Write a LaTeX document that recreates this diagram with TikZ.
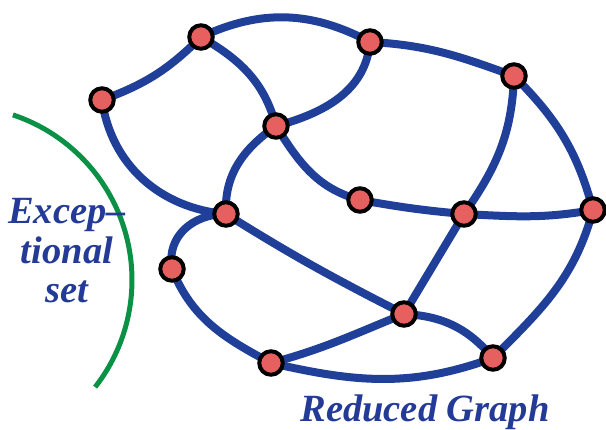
\documentclass[tikz,border=0pt]{standalone}
\usepackage{fontspec}
\setmainfont{Liberation Serif}
\usetikzlibrary{backgrounds}
\definecolor{edgeblue}{RGB}{31,63,153}
\definecolor{textblue}{RGB}{35,58,150}
\definecolor{dotred}{RGB}{230,96,96}
\definecolor{arcgreen}{RGB}{10,145,70}
\begin{document}
\begin{tikzpicture}[x=1pt,y=1pt,
  vtx/.style={circle,draw=black,line width=4pt,fill=dotred,minimum size=23.5pt,inner sep=0pt},
  edge/.style={draw=edgeblue,line width=8pt},
  lbl/.style={text=textblue,font=\fontsize{38.5}{39.5}\selectfont\bfseries\itshape}]
\useasboundingbox (0,0) rectangle (606,-430);
\node[vtx] (A) at (102,-100) {};
\node[vtx] (B) at (201,-37) {};
\node[vtx] (C) at (370,-42) {};
\node[vtx] (D) at (514,-76) {};
\node[vtx] (E) at (276,-126) {};
\node[vtx] (F) at (360,-200) {};
\node[vtx] (G) at (464,-214) {};
\node[vtx] (H) at (593,-210) {};
\node[vtx] (I) at (226,-214) {};
\node[vtx] (J) at (172,-269) {};
\node[vtx] (K) at (404,-314) {};
\node[vtx] (L) at (271,-363) {};
\node[vtx] (M) at (493,-358) {};
\begin{scope}[on background layer]
\path[edge] (A.center) to[out=20,in=225] (B.center);
\path[edge] (B.center) to[out=25,in=152] (C.center);
\path[edge] (C.center) to[out=-3,in=160] (D.center);
\path[edge] (D.center) to[out=-45,in=105] (H.center);
\path[edge] (H.center) to[out=-105,in=45] (M.center);
\path[edge] (M.center) to[out=200,in=-13] (L.center);
\path[edge] (L.center) to[out=152,in=-68] (J.center);
\path[edge] (J.center) to[out=100,in=180,looseness=1.1] (I.center);
\path[edge] (A.center) to[out=-82,in=175] (I.center);
\path[edge] (E.center) to[out=215,in=93] (I.center);
\path[edge] (B.center) to[out=-30,in=105] (E.center);
\path[edge] (C.center) to[out=-95,in=15] (E.center);
\path[edge] (E.center) to[out=-58,in=165] (F.center);
\path[edge] (F.center) to[out=-10,in=175] (G.center);
\path[edge] (G.center) to[out=-3,in=190] (H.center);
\path[edge] (D.center) to[out=-92,in=55] (G.center);
\path[edge] (G.center) -- (K.center);
\path[edge] (I.center) to[out=-32,in=153] (K.center);
\path[edge] (K.center) to[out=202,in=15] (L.center);
\path[edge] (K.center) to[out=-3,in=130] (M.center);
\end{scope}
\coordinate (O) at (-42,-280);
\draw[arcgreen,line width=5pt] (O) ++(71.6:174) arc[start angle=71.6,end angle=-38,radius=174];
\node[lbl,align=center,anchor=north] (ex) at (67,-195) {Excep--\\tional\\set};
\node[lbl,anchor=base] (rg) at (425,-422) {Reduced Graph};
\end{tikzpicture}
\end{document}
